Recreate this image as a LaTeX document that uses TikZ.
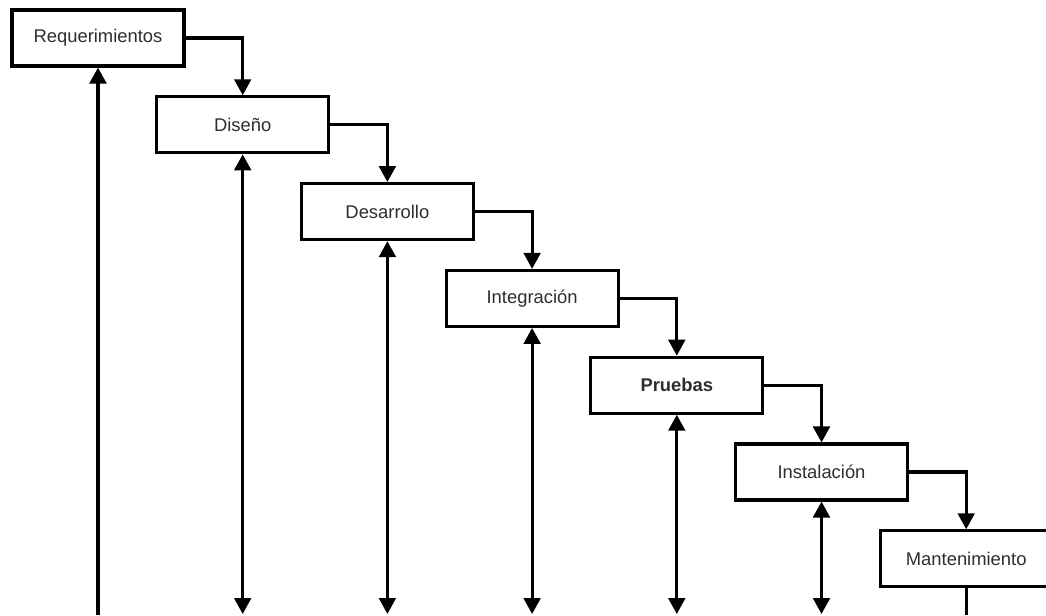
\documentclass[tikz,border=0pt]{standalone}
\usepackage{fontspec}
\setmainfont{Liberation Sans}
\usetikzlibrary{arrows.meta}
\begin{document}
\begin{tikzpicture}[x=0.75pt,y=-0.75pt,
  tip/.style={Triangle[width=12.5pt,length=12pt]},
  phase/.style={draw=black, line width=2.3pt, fill=white, rectangle,
    minimum width=172*0.75pt, minimum height=56*0.75pt, inner sep=0pt,
    font=\fontsize{13.8}{16}\selectfont, text=black!82},
  flow/.style={line width=2.3pt, -{Triangle[width=12.5pt,length=12pt]}},
  back/.style={line width=2.3pt, {Triangle[width=12.5pt,length=12pt]}-{Triangle[width=12.5pt,length=12pt]}},
  up/.style={line width=2.3pt, -{Triangle[width=12.5pt,length=12pt]}},
  plain/.style={line width=2.3pt}]
\useasboundingbox (0,0) rectangle (1046,615);
\fill[white] (0,0) rectangle (1046,615);

% phases of the waterfall
\node[phase] (req) at (98,38) {Requerimientos};
\node[phase] (dis) at (242.7,124.8) {Diseño};
\node[phase] (des) at (387.4,211.6) {Desarrollo};
\node[phase] (int) at (532.1,298.4) {Integración};
\node[phase, font=\fontsize{13.8}{16}\selectfont\bfseries] (pru) at (676.8,385.2) {Pruebas};
\node[phase] (ins) at (821.5,472) {Instalación};
\node[phase] (man) at (966.2,558.8) {Mantenimiento};

% forward flow between phases
\draw[flow] (req.east) -| (dis.north);
\draw[flow] (dis.east) -| (des.north);
\draw[flow] (des.east) -| (int.north);
\draw[flow] (int.east) -| (pru.north);
\draw[flow] (pru.east) -| (ins.north);
\draw[flow] (ins.east) -| (man.north);

% feedback lines along the bottom edge
\coordinate (f0) at (98,615);
\coordinate (f1) at (242.7,614);
\coordinate (f2) at (387.4,614);
\coordinate (f3) at (532.1,614);
\coordinate (f4) at (676.8,614);
\coordinate (f5) at (821.5,614);
\coordinate (f6) at (966.2,615);

\draw[up] (f0) -- (req.south);
\draw[back] (dis.south) -- (f1);
\draw[back] (des.south) -- (f2);
\draw[back] (int.south) -- (f3);
\draw[back] (pru.south) -- (f4);
\draw[back] (ins.south) -- (f5);
\draw[plain] (man.south) -- (f6);
\end{tikzpicture}
\end{document}
